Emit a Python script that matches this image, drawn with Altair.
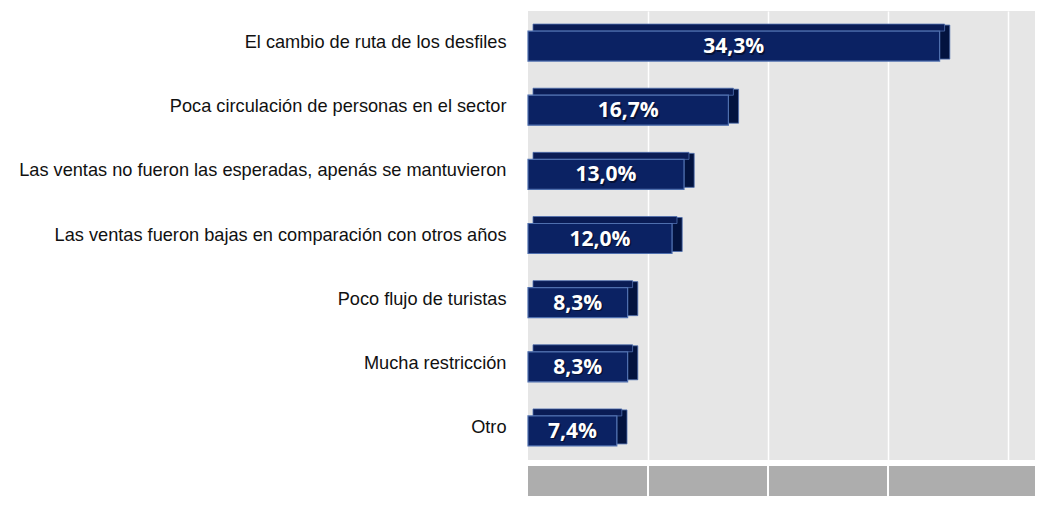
import altair as alt
import pandas as pd

# ---- data ----
categories = [
    "El cambio de ruta de los desfiles",
    "Poca circulación de personas en el sector",
    "Las ventas no fueron las esperadas, apenás se mantuvieron",
    "Las ventas  fueron bajas en comparación con otros años",
    "Poco flujo de turistas",
    "Mucha restricción",
    "Otro",
]
values = [34.3, 16.7, 13.0, 12.0, 8.3, 8.3, 7.4]
value_labels = ["34,3%", "16,7%", "13,0%", "12,0%", "8,3%", "8,3%", "7,4%"]
grid_values = [10, 20, 30, 40]
x_max = 42.25

W, H = 507, 449

df = pd.DataFrame({"cat": categories, "val": values, "lab": value_labels})
df["mid"] = df["val"] / 2
df["side_end"] = df["val"] + 0.85
floor_df = pd.DataFrame({"x0": [0], "x1": [x_max]})
sep_df = pd.DataFrame({"g": grid_values[:-1]})

front = "#0b2263"
edge = "#4f6fae"
topc = "#0a1c55"
side = "#03133f"

yenc = alt.Y(
    "cat:N",
    sort=categories,
    scale=alt.Scale(paddingInner=0, paddingOuter=0),
    axis=alt.Axis(
        title=None, ticks=False, domain=False, labelFontSize=18.2,
        labelFont="Liberation Sans", labelColor="#111111", labelLimit=0,
        labelPadding=22,
    ),
)
xscale = alt.Scale(domain=[0, x_max], nice=False, zero=True)
xaxis = alt.Axis(
    title=None, labels=False, ticks=False, domain=False, grid=True,
    gridColor="white", gridWidth=1.5, values=grid_values,
)

base = alt.Chart(df)

floor = alt.Chart(floor_df).mark_rect(color="#adadad").encode(
    x=alt.X("x0:Q", scale=xscale, axis=xaxis),
    x2="x1:Q",
    y=alt.value(H + 6),
    y2=alt.value(H + 36),
)
seps = alt.Chart(sep_df).mark_rule(color="white", strokeWidth=2).encode(
    x=alt.X("g:Q", scale=xscale),
    y=alt.value(H + 6),
    y2=alt.value(H + 36),
)

side_face = base.mark_bar(color=side, size=34, yOffset=-1, stroke=edge, strokeWidth=0.8).encode(
    x=alt.X("val:Q", scale=xscale, axis=xaxis),
    x2="side_end:Q",
    y=yenc,
)
top_face = base.mark_bar(color=topc, size=7, yOffset=-15.5, xOffset=5, stroke=edge, strokeWidth=0.8).encode(
    x=alt.X("val:Q", scale=xscale, axis=xaxis),
    y=yenc,
)
front_face = base.mark_bar(color=front, size=30, yOffset=3, stroke=edge, strokeWidth=1.2).encode(
    x=alt.X("val:Q", scale=xscale, axis=xaxis),
    y=yenc,
)
shadow = base.mark_text(
    color="black", opacity=0.45, font="Open Sans", fontWeight="bold",
    fontSize=21, yOffset=5.5, xOffset=1.5, baseline="middle", align="center",
).encode(
    x=alt.X("mid:Q", scale=xscale),
    y=yenc,
    text="lab:N",
)
text = base.mark_text(
    color="white", font="Open Sans", fontWeight="bold",
    fontSize=21, yOffset=4, baseline="middle", align="center",
).encode(
    x=alt.X("mid:Q", scale=xscale),
    y=yenc,
    text="lab:N",
)

chart = alt.layer(floor, seps, side_face, top_face, front_face, shadow, text).properties(
    width=W, height=H,
    padding={"left": 520, "top": 3, "right": 0, "bottom": 50},
    autosize=alt.AutoSizeParams(type="none"),
    background="white",
).configure_view(fill="#e6e6e6", stroke=None)

chart.save("out.html", embed_options={"renderer": "svg", "actions": False})
